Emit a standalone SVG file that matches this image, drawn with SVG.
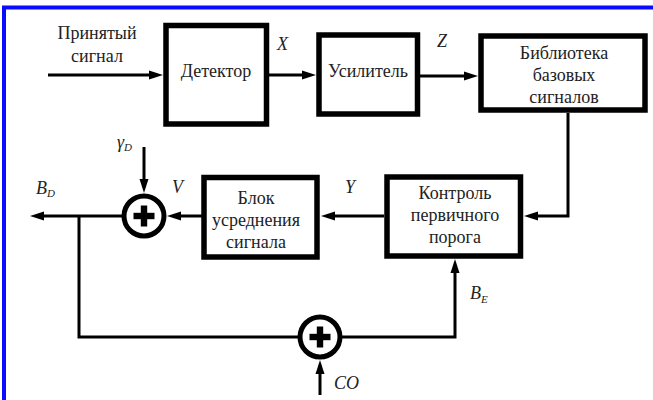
<svg xmlns="http://www.w3.org/2000/svg" width="653" height="400" viewBox="0 0 653 400">
  <defs>
    <marker id="arrow" markerUnits="userSpaceOnUse" markerWidth="14" markerHeight="10" viewBox="0 0 14 10" refX="8" refY="5" orient="auto">
      <path d="M0,0.5 L14,5 L0,9.5 z" fill="#000"/>
    </marker>
    <g id="plus">
      <rect x="-10.5" y="-3.2" width="21" height="6.4" fill="#000"/>
      <rect x="-3.2" y="-10.5" width="6.4" height="21" fill="#000"/>
    </g>
  </defs>
  <style>
    .box { fill: #fff; stroke: #000; stroke-width: 5.5; }
    .sum { fill: #fff; stroke: #000; stroke-width: 5; }
    .wire { fill: none; stroke: #000; stroke-width: 3; }
    .arr { fill: none; stroke: #000; stroke-width: 3; marker-end: url(#arrow); }
    .txt { font-family: 'Liberation Serif', 'Times New Roman', serif; font-size: 18px; fill: #222; text-anchor: middle; }
    .var { font-family: 'Liberation Serif', 'Times New Roman', serif; font-size: 18px; font-style: italic; fill: #222; }
    .sub { font-size: 11px; }
  </style>

  <rect width="653" height="400" fill="#fff"/>

  <!-- outer frame -->
  <path d="M4,400 V7.5 H653" fill="none" stroke="#0a0aff" stroke-width="4"/>

  <!-- connectors -->
  <g id="connectors">
    <line class="arr" x1="48" y1="75" x2="157" y2="75"/>
    <line class="arr" x1="269" y1="75" x2="310" y2="75"/>
    <line class="arr" x1="420" y1="76" x2="472" y2="76"/>
    <path class="arr" d="M568,113 V216 H530"/>
    <line class="arr" x1="384" y1="216" x2="327" y2="216"/>
    <line class="arr" x1="202" y1="216" x2="173" y2="216"/>
    <line class="arr" x1="144" y1="147" x2="144" y2="187"/>
    <line class="arr" x1="122" y1="216" x2="36" y2="216"/>
    <path class="wire" d="M79,216 V337 H298"/>
    <path class="arr" d="M342,337 H455 V265"/>
    <line class="arr" x1="320" y1="395" x2="320" y2="366"/>
  </g>

  <!-- blocks -->
  <g id="detector">
    <rect class="box" x="166" y="25.5" width="100.5" height="98.5"/>
    <text class="txt" x="216" y="77">Детектор</text>
  </g>
  <g id="amplifier">
    <rect class="box" x="319" y="35" width="98.5" height="79"/>
    <text class="txt" x="368" y="77">Усилитель</text>
  </g>
  <g id="library">
    <rect class="box" x="481" y="36" width="164" height="74"/>
    <text class="txt" x="564" y="59">Библиотека</text>
    <text class="txt" x="564" y="81">базовых</text>
    <text class="txt" x="564" y="103">сигналов</text>
  </g>
  <g id="threshold">
    <rect class="box" x="387" y="177" width="133.5" height="79"/>
    <text class="txt" x="455" y="199">Контроль</text>
    <text class="txt" x="455" y="221">первичного</text>
    <text class="txt" x="455" y="243">порога</text>
  </g>
  <g id="averaging">
    <rect class="box" x="204" y="177.5" width="113" height="79.5"/>
    <text class="txt" x="256" y="204">Блок</text>
    <text class="txt" x="256" y="226">усреднения</text>
    <text class="txt" x="256" y="248">сигнала</text>
  </g>
  <g id="sum-top">
    <circle class="sum" cx="144" cy="216" r="20"/>
    <use href="#plus" x="144" y="216"/>
  </g>
  <g id="sum-bottom">
    <circle class="sum" cx="320" cy="337" r="20"/>
    <use href="#plus" x="320" y="337"/>
  </g>

  <!-- signal names -->
  <g id="labels">
    <text class="txt" x="97" y="39">Принятый</text>
    <text class="txt" x="97" y="62">сигнал</text>
    <text class="var" x="277" y="50">X</text>
    <text class="var" x="437" y="47">Z</text>
    <text class="var" x="345" y="193">Y</text>
    <text class="var" x="172" y="193">V</text>
    <text class="var" x="117" y="148">γ<tspan class="sub" dy="3">D</tspan></text>
    <text class="var" x="36" y="194">B<tspan class="sub" dy="3">D</tspan></text>
    <text class="var" x="470" y="299">B<tspan class="sub" dy="4">E</tspan></text>
    <text class="var" x="334" y="389">CO</text>
  </g>
</svg>
